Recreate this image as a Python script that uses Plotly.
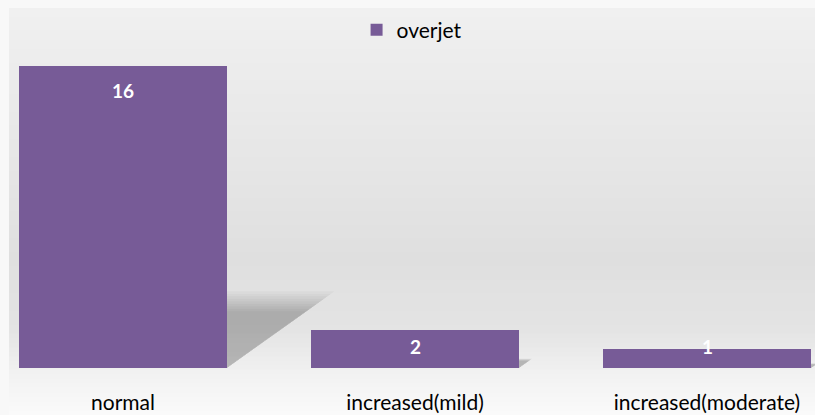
import plotly.graph_objects as go

categories = ["normal", "increased(mild)", "increased(moderate)"]
values = [16, 2, 1]
series_name = "overjet"

BAR_COLOR = "#775b97"
FONT = "Lato"

# axis geometry (pixels)
W, H = 815, 415
BASE_PX = 368
PX_PER_UNIT = 302 / 16
PX_PER_CAT = 292
CENTER0 = 123

x_range = [-CENTER0 / PX_PER_CAT, (W - CENTER0) / PX_PER_CAT]
y_range = [0, BASE_PX / PX_PER_UNIT]
bar_w = 208 / PX_PER_CAT


def py(ypix):
    return (BASE_PX - ypix) / BASE_PX


fig = go.Figure()
fig.add_trace(go.Bar(
    x=list(range(len(categories))), y=values, name=series_name,
    width=bar_w, marker=dict(color=BAR_COLOR, line=dict(width=0)),
    showlegend=True,
))

shapes = []
# background gradient bands
bg_stops = [(8, (240, 240, 240)), (120, (233, 233, 233)), (260, (223, 223, 223)),
            (330, (228, 228, 228)), (380, (243, 243, 243)), (415, (250, 250, 250))]
n = 90
for i in range(n):
    y0 = 8 + (415 - 8) * i / n
    y1 = 8 + (415 - 8) * (i + 1) / n
    ym = (y0 + y1) / 2
    for (a, ca), (b, cb) in zip(bg_stops[:-1], bg_stops[1:]):
        if a <= ym <= b:
            t = (ym - a) / (b - a)
            c = tuple(int(round(ca[k] + (cb[k] - ca[k]) * t)) for k in range(3))
            break
    shapes.append(dict(type="rect", xref="paper", yref="paper", layer="below",
                       x0=9 / W, x1=1, y0=py(y1) - 0.002, y1=py(y0),
                       fillcolor="rgb(%d,%d,%d)" % c, line=dict(width=0)))

# soft perspective shadows behind bars
for i, v in enumerate(values):
    xr = i + bar_w / 2
    sh_h = v * 0.235
    sh_w = v * PX_PER_UNIT * 0.33 / PX_PER_CAT
    layers = 9
    for k in range(layers):
        s = 1.08 - 0.28 * k / (layers - 1)
        path = "M %f %f L %f %f L %f %f Z" % (
            xr, 0, xr + sh_w * s, sh_h * s, xr, sh_h * s)
        shapes.append(dict(type="path", xref="x", yref="y", layer="below", path=path,
                           fillcolor="rgba(0,0,0,0.026)", line=dict(width=0)))

annotations = []
label_top_off = 24 / PX_PER_UNIT
label_min = 22 / PX_PER_UNIT
for i, v in enumerate(values):
    annotations.append(dict(x=i, y=max(v - label_top_off, label_min), xref="x", yref="y",
                            text="<b>%d</b>" % v, showarrow=False, yanchor="middle",
                            font=dict(family=FONT, size=19, color="white")))

fig.update_layout(
    width=W, height=H,
    margin=dict(l=0, r=0, t=0, b=H - BASE_PX, autoexpand=False),
    paper_bgcolor="#f8f8f8", plot_bgcolor="rgba(0,0,0,0)",
    shapes=shapes, annotations=annotations,
    font=dict(family=FONT, size=21, color="#000000"),
    legend=dict(orientation="h", x=0.505, xanchor="center", y=py(30),
                yanchor="middle", bgcolor="rgba(0,0,0,0)", font=dict(size=21),
                itemwidth=30),
    xaxis=dict(range=x_range, tickvals=list(range(len(categories))), ticktext=categories,
               showgrid=False, zeroline=False, showline=False, ticks="",
               tickfont=dict(size=21), ticklabelstandoff=20),
    yaxis=dict(range=y_range, visible=False, showgrid=False),
    bargap=0,
)

fig.write_html("out.html")
